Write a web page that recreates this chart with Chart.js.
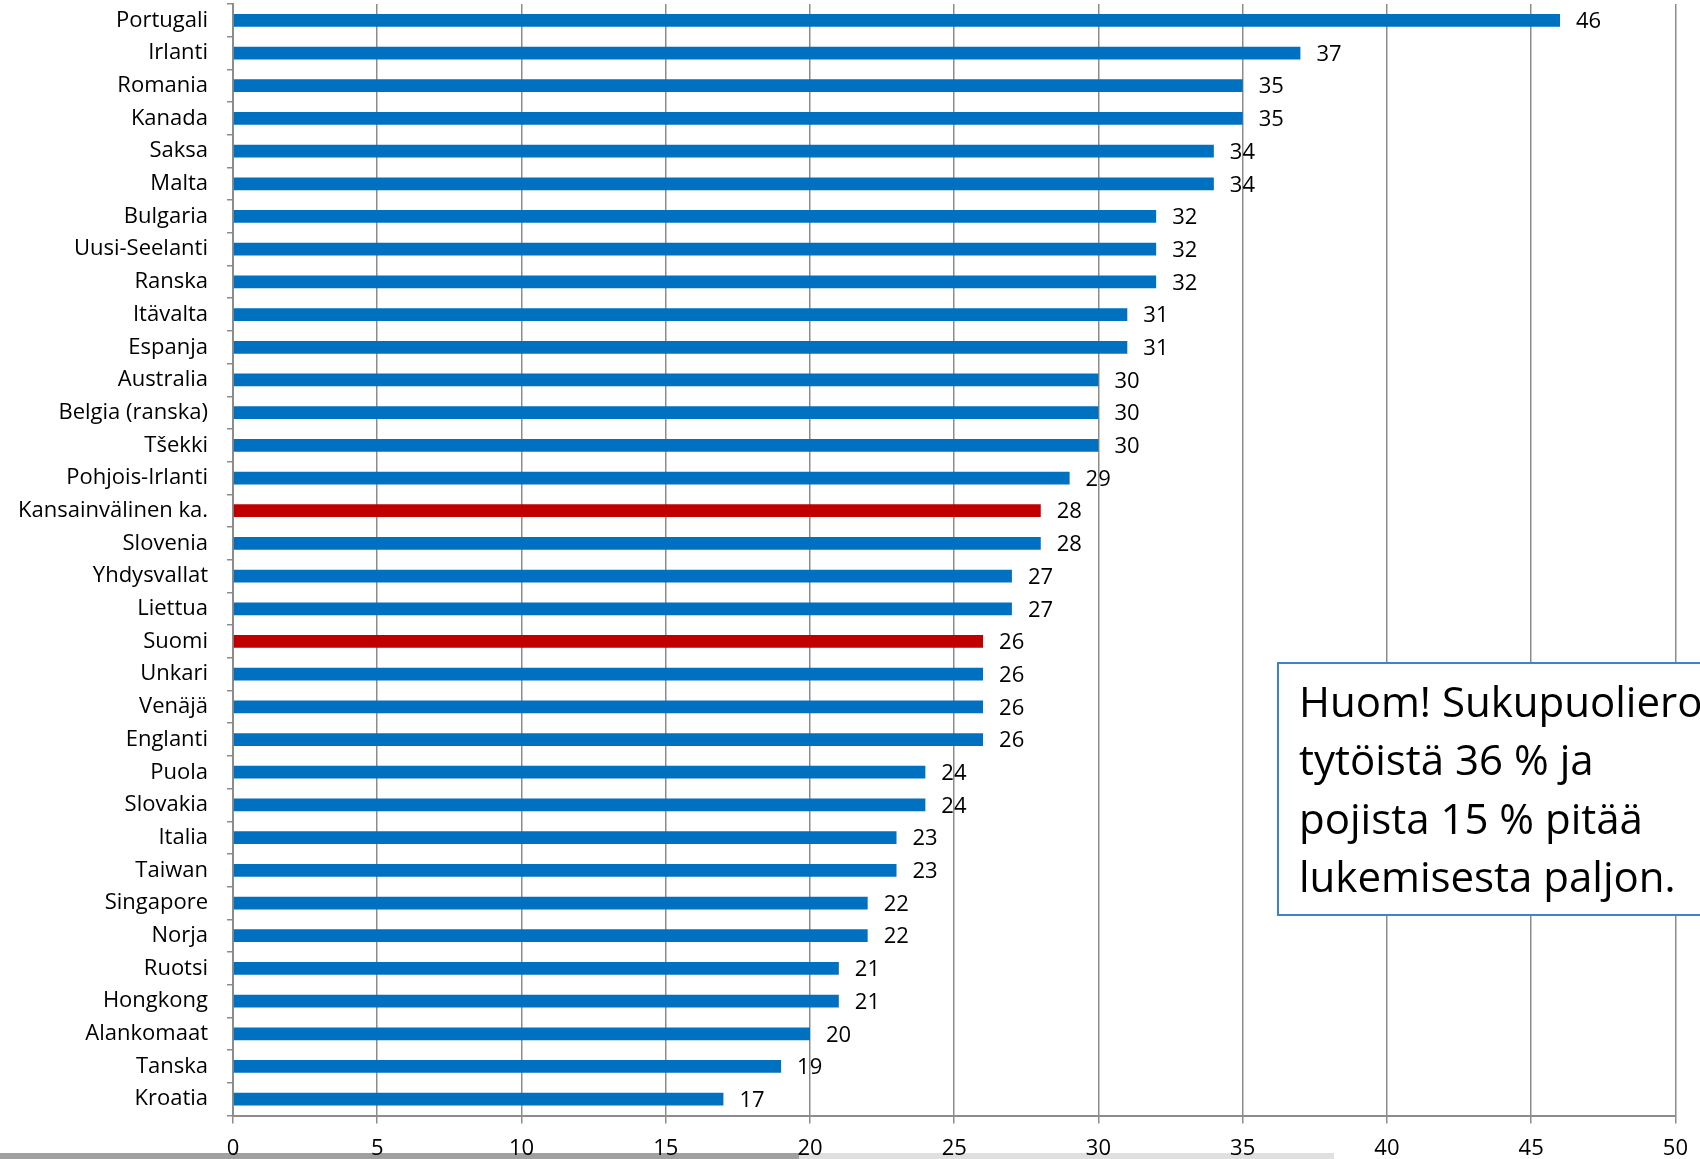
<!DOCTYPE html>
<html>
<head>
<meta charset="utf-8">
<script src="https://cdn.jsdelivr.net/npm/chart.js@4.4.1/dist/chart.umd.min.js"></script>
<style>
    html, body { margin: 0; padding: 0; background: #fff; }
    #wrap { width: 1700px; height: 1159px; }
</style>
</head>
<body>
<div id="wrap"><canvas id="chart" width="1700" height="1159"></canvas></div>
<script>
const countries = [
    'Portugali', 'Irlanti', 'Romania', 'Kanada', 'Saksa', 'Malta', 'Bulgaria',
    'Uusi-Seelanti', 'Ranska', 'Itävalta', 'Espanja', 'Australia', 'Belgia (ranska)',
    'Tšekki', 'Pohjois-Irlanti', 'Kansainvälinen ka.', 'Slovenia', 'Yhdysvallat',
    'Liettua', 'Suomi', 'Unkari', 'Venäjä', 'Englanti', 'Puola', 'Slovakia', 'Italia',
    'Taiwan', 'Singapore', 'Norja', 'Ruotsi', 'Hongkong', 'Alankomaat', 'Tanska', 'Kroatia'
];
const percents = [
    46, 37, 35, 35, 34, 34, 32, 32, 32, 31, 31, 30, 30, 30, 29, 28, 28, 27, 27,
    26, 26, 26, 26, 24, 24, 23, 23, 22, 22, 21, 21, 20, 19, 17
];
const highlighted = ['Kansainvälinen ka.', 'Suomi'];
const xTicks = [0, 5, 10, 15, 20, 25, 30, 35, 40, 45, 50];
const noteLines = [
    'Huom! Sukupuoliero',
    'tytöistä 36 % ja',
    'pojista 15 % pitää',
    'lukemisesta paljon.'
];

const colors = {
    blue: '#0070c0',
    red: '#c00000',
    grid: '#8c8c8c',
    text: '#000000',
    note: '#3b84c9'
};
const FONT = '"Open Sans", sans-serif';

// value labels at the end of each bar
const valueLabels = {
    id: 'valueLabels',
    afterDatasetsDraw(chart) {
        const {ctx} = chart;
        const meta = chart.getDatasetMeta(0);
        ctx.save();
        ctx.font = '22px ' + FONT;
        ctx.fillStyle = colors.text;
        ctx.textAlign = 'left';
        ctx.textBaseline = 'middle';
        meta.data.forEach((bar, i) => {
            ctx.fillText(String(percents[i]), bar.x + 16, bar.y + 1.5);
        });
        ctx.restore();
    }
};

// text box on the right + the grey strip at the bottom of the screenshot
const noteBox = {
    id: 'noteBox',
    beforeDraw(chart) {
        const {ctx} = chart;
        ctx.save();
        ctx.fillStyle = '#e0e0e0';
        ctx.fillRect(0, 1153, 1334, 6);
        ctx.fillStyle = '#a0a0a0';
        ctx.fillRect(0, 1153, 799, 6);
        ctx.restore();
    },
    afterDraw(chart) {
        const {ctx} = chart;
        ctx.save();
        ctx.fillStyle = '#fff';
        ctx.fillRect(1278, 663, 440, 252);
        ctx.strokeStyle = colors.note;
        ctx.lineWidth = 2;
        ctx.strokeRect(1278, 663, 440, 252);
        ctx.fillStyle = colors.text;
        ctx.font = '42px ' + FONT;
        ctx.textBaseline = 'alphabetic';
        noteLines.forEach((line, i) => ctx.fillText(line, 1299, 717 + i * 58.3));
        ctx.restore();
    }
};

new Chart(document.getElementById('chart'), {
    type: 'bar',
    data: {
        labels: countries,
        datasets: [{
            data: percents,
            backgroundColor: countries.map(c => highlighted.includes(c) ? colors.red : colors.blue),
            categoryPercentage: 1,
            barPercentage: 0.39
        }]
    },
    plugins: [valueLabels, noteBox],
    options: {
        indexAxis: 'y',
        responsive: false,
        animation: false,
        layout: { padding: { top: 4, right: 24, bottom: 0, left: 0 } },
        plugins: {
            legend: { display: false },
            tooltip: { enabled: false }
        },
        scales: {
            x: {
                min: 0,
                max: 50,
                afterBuildTicks: ax => { ax.ticks = xTicks.map(v => ({ value: v })); },
                afterFit: s => { s.height = 43.5; },
                grid: {
                    color: colors.grid,
                    lineWidth: 1.5,
                    drawTicks: true,
                    tickLength: 8
                },
                border: { color: colors.grid, width: 2 },
                ticks: {
                    color: colors.text,
                    padding: 12,
                    font: { family: FONT, size: 22 }
                }
            },
            y: {
                afterFit: s => {
                    s.width = 233;
                    // don't let the label heights push the plot down
                    s.paddingTop = 0;
                    s.paddingBottom = 0;
                },
                grid: {
                    drawOnChartArea: false,
                    color: colors.grid,
                    lineWidth: 1.5,
                    tickLength: 6
                },
                border: { color: colors.grid, width: 2 },
                ticks: {
                    color: colors.text,
                    padding: 19,
                    autoSkip: false,
                    font: { family: FONT, size: 22 }
                }
            }
        }
    }
});
</script>
</body>
</html>
